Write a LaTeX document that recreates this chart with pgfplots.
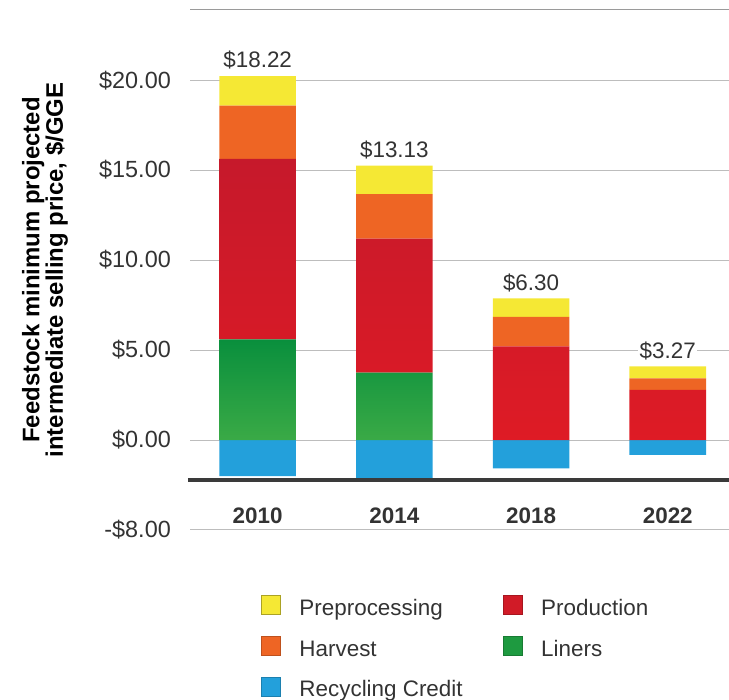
\documentclass[border=0pt]{standalone}
\usepackage{fontspec}
\setmainfont{Liberation Sans}
\usepackage{pgfplots}
\usepackage{pgfplotstable}
\pgfplotsset{compat=1.18}

\definecolor{yellowc}{HTML}{F5E834}
\definecolor{orangec}{HTML}{EE6524}
\definecolor{redtop}{HTML}{C6192B}
\definecolor{redbot}{HTML}{DE1B25}
\definecolor{redc}{HTML}{D11B27}
\definecolor{greentop}{HTML}{098F3D}
\definecolor{greenbot}{HTML}{3AAA46}
\definecolor{greenc}{HTML}{1E9A40}
\definecolor{bluec}{HTML}{23A0DB}
\definecolor{gridc}{HTML}{BDBDBD}
\definecolor{topc}{HTML}{9A9A9A}
\definecolor{basec}{HTML}{3A3A3A}
\definecolor{txtc}{HTML}{333333}

\newcommand\fs{\fontsize{22.5}{26}\selectfont}
\newcommand\ft{\fontsize{23.5}{26}\selectfont}
\newcommand\fl{\fontsize{24}{22}\selectfont}

\pgfplotsset{
  sq/.style={legend image code/.code={\draw[##1] (0bp,-6bp) rectangle (19bp,13bp);}},
  frame/.style={
    at={(190bp,170bp)}, anchor=south west,
    scale only axis, width=539bp, height=520bp,
    xmin=-0.495, xmax=3.448, ymin=-5, ymax=23.9,
    clip=false,
  },
}

% cost components per year, $/GGE
\pgfplotstableread{
x liners prod harv pre credit total
0 5.60 10.02 2.96 1.64 -2.00 18.22
1 3.75 7.45 2.46 1.59 -2.12 13.13
2 0.00 5.20 1.64 1.03 -1.57 6.30
3 0.00 2.79 0.63 0.68 -0.83 3.27
}\costs

\begin{document}
\begin{tikzpicture}
\useasboundingbox (0,0) rectangle (729bp,700bp);

% grid, ticks, labels, recycling credit and totals
\begin{axis}[
    frame,
    axis line style={draw=none},
    tick style={draw=none},
    ytick={-5,0,5,10,15,20},
    yticklabels={-\$8.00,\$0.00,\$5.00,\$10.00,\$15.00,\$20.00},
    ymajorgrids,
    grid style={line width=1bp, color=gridc},
    xtick={0,1,2,3},
    xticklabels={2010,2014,2018,2022},
    xticklabel style={font=\fs\bfseries, text=txtc, anchor=center, inner sep=0pt, yshift=14.5bp},
    yticklabel style={font=\ft, text=txtc, anchor=east, inner sep=0pt, xshift=-19bp},
    every axis y label/.style={at={(axis description cs:-0.269,0.5)}, rotate=90, anchor=center,
      font=\fl\bfseries, align=center, text=black},
    ylabel={Feedstock minimum projected\\intermediate selling price, \$/GGE},
]
\addplot[ybar, bar width=0.56, bar shift=0pt, fill=bluec, draw=none] table[x=x, y=credit] {\costs};
% total above each bar (net of the credit)
\addplot[only marks, mark=none,
    point meta=explicit symbolic,
    nodes near coords={\$\pgfplotspointmeta},
    every node near coord/.append style={font=\fs, text=txtc, anchor=south, yshift=5bp,
      fill=white, inner sep=1.5bp}]
    table[x=x, y expr=\thisrow{liners}+\thisrow{prod}+\thisrow{harv}+\thisrow{pre}, meta=total] {\costs};
\draw[topc, line width=1bp] (rel axis cs:0,1) -- (rel axis cs:1,1);
\end{axis}

% stacked positive components
\begin{axis}[
    frame,
    hide axis,
    ybar stacked,
    bar width=0.56,
    legend columns=2,
    legend cell align=left,
    legend style={draw=none, fill=none, inner sep=0pt, outer sep=0pt,
      at={(0.1317,-0.125)}, anchor=north west, row sep=15.5bp,
      nodes={inner sep=0pt, text height=19bp, text depth=5bp, font=\fs, text=txtc},
      /tikz/every odd column/.append style={column sep=19bp},
      /tikz/every even column/.append style={column sep=40bp}},
]
\addplot[forget plot, draw=none, top color=greentop, bottom color=greenbot] table[x=x, y=liners] {\costs};
\addplot[forget plot, draw=none, top color=redtop, bottom color=redbot] table[x=x, y=prod] {\costs};
\addplot[forget plot, draw=none, fill=orangec] table[x=x, y=harv] {\costs};
\addplot[forget plot, draw=none, fill=yellowc] table[x=x, y=pre] {\costs};

\addlegendimage{sq, fill=yellowc, draw=yellowc!70!black, line width=0.5bp}
\addlegendentry{Preprocessing}
\addlegendimage{sq, fill=redc, draw=redc!80!black, line width=0.5bp}
\addlegendentry{Production}
\addlegendimage{sq, fill=orangec, draw=orangec!80!black, line width=0.5bp}
\addlegendentry{Harvest}
\addlegendimage{sq, fill=greenc, draw=greenc!80!black, line width=0.5bp}
\addlegendentry{Liners}
\addlegendimage{sq, fill=bluec, draw=bluec!80!black, line width=0.5bp}
\addlegendentry{Recycling Credit}

\draw[basec, line width=4bp] (axis cs:-0.51,-2.2) -- (axis cs:3.448,-2.2);
\end{axis}
\end{tikzpicture}
\end{document}
